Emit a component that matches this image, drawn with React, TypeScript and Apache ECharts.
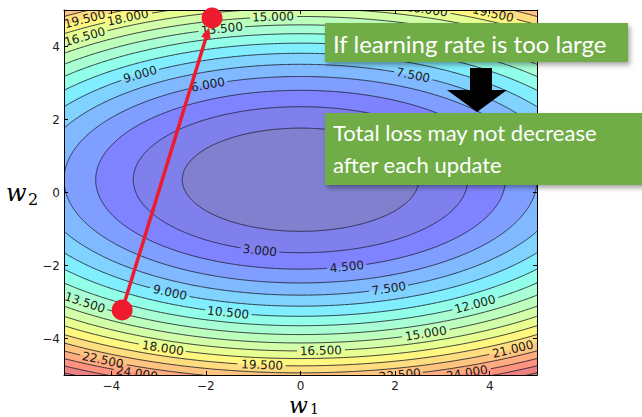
import React, { useEffect, useRef } from 'react';
import * as echarts from 'echarts';

// Quadratic loss surface: L = A1*(w1-C1)^2 + A2*(w2-C2)^2
const SURFACE_A1 = 0.24;
const SURFACE_A2 = 0.75;
const SURFACE_C1 = 0;
const SURFACE_C2 = 0.35;

// filled-contour boundaries (matplotlib auto levels, step 1.5)
const FILL_LEVELS = [0, 1.5, 3, 4.5, 6, 7.5, 9, 10.5, 12, 13.5, 15, 16.5, 18, 19.5, 21, 22.5, 24, 25.5, 27, 28.5];
// contour lines that are drawn
const LINE_LEVELS = [1.5, 3, 4.5, 6, 7.5, 9, 10.5, 12, 13.5, 15, 16.5, 18, 19.5, 21, 22.5, 24, 25.5, 27];
// contour labels: [level, w1, side (+1 upper half, -1 lower half)]
const CONTOUR_LABELS: [number, number, number][] = [
  [19.5, -4.56, 1], [18, -3.65, 1], [16.5, -4.56, 1], [15, -0.58, 1], [13.5, -1.66, 1],
  [9, -3.39, 1], [6, -1.96, 1], [7.5, 2.38, 1], [18, 2.67, 1], [19.5, 4.07, 1],
  [3, -0.86, -1], [4.5, 0.98, -1], [7.5, 1.87, -1], [9, -2.76, -1], [10.5, -1.53, -1],
  [12, 3.69, -1], [13.5, -4.56, -1], [15, 2.65, -1], [16.5, 0.43, -1], [18, -2.91, -1],
  [19.5, -0.81, -1], [21, 4.49, -1], [22.5, -4.18, -1], [24, -3.46, -1], [22.5, 2.1, -1], [24, 3.52, -1],
];
// gradient-descent step (start point -> next point)
const STEP_START = [-3.77, -3.22];
const STEP_END = [-1.87, 4.78];

const X_TICKS = [-4, -2, 0, 2, 4];
const Y_TICKS = [-4, -2, 0, 2, 4];

const RED = '#ee1b2e';

function interp(pts: number[][], t: number) {
  for (let i = 1; i < pts.length; i++) {
    if (t <= pts[i][0]) {
      const [t0, v0] = pts[i - 1];
      const [t1, v1] = pts[i];
      return v0 + ((t - t0) / (t1 - t0)) * (v1 - v0);
    }
  }
  return pts[pts.length - 1][1];
}
function jetBlend(t: number) {
  const r = interp([[0, 0], [0.35, 0], [0.66, 1], [0.89, 1], [1, 0.5]], t);
  const g = interp([[0, 0], [0.125, 0], [0.375, 1], [0.64, 1], [0.91, 0], [1, 0]], t);
  const b = interp([[0, 0.5], [0.11, 1], [0.34, 1], [0.65, 0], [1, 0]], t);
  const a = 0.5;
  const c = (v: number) => Math.round(255 * (a * v + (1 - a)));
  return `rgb(${c(r)},${c(g)},${c(b)})`;
}

function ellipse(api: any, level: number, n: number) {
  const rx = Math.sqrt(level / SURFACE_A1);
  const ry = Math.sqrt(level / SURFACE_A2);
  const pts: number[][] = [];
  for (let i = 0; i <= n; i++) {
    const t = (2 * Math.PI * i) / n;
    pts.push(api.coord([SURFACE_C1 + rx * Math.cos(t), SURFACE_C2 + ry * Math.sin(t)]));
  }
  return pts;
}

function labelGeom(api: any, lab: [number, number, number]) {
  const [L, w1, side] = lab;
  const w2 = (w: number) =>
    SURFACE_C2 + side * Math.sqrt(Math.max(0, (L - SURFACE_A1 * (w - SURFACE_C1) ** 2) / SURFACE_A2));
  const c = api.coord([w1, w2(w1)]);
  const a = api.coord([w1 - 0.05, w2(w1 - 0.05)]);
  const b = api.coord([w1 + 0.05, w2(w1 + 0.05)]);
  const th = Math.atan2(b[1] - a[1], b[0] - a[0]);
  const text = L.toFixed(3);
  const w = text.replace('.', '').length * 7.63 + 3.81;
  return { x: c[0], y: c[1], th, text, hw: w / 2 + 2 };
}

export default function App() {
  const ref = useRef<HTMLDivElement>(null);
  useEffect(() => {
    if (!ref.current) return;
    const chart = echarts.init(ref.current, undefined, { renderer: 'svg' });
    const top = FILL_LEVELS[FILL_LEVELS.length - 1];
    const fillData = FILL_LEVELS.slice(1)
      .map((u, i) => [u, (u + FILL_LEVELS[i]) / 2])
      .reverse();
    const fmt = (v: number) => (v < 0 ? '\u2212' + Math.abs(v) : String(v));
    const axisCommon = {
      type: 'value',
      min: -5,
      max: 5,
      z: 10,
      splitLine: { show: false },
      axisLine: { show: true, onZero: false, lineStyle: { color: '#000', width: 1 } },
    };
    const option: any = {
      animation: false,
      backgroundColor: '#fff',
      grid: { left: 64, top: 10, width: 473, height: 365, containLabel: false },
      xAxis: [
        {
          ...axisCommon,
          position: 'bottom',
          axisTick: { show: true, inside: true, length: 4, customValues: X_TICKS, lineStyle: { color: '#000' } },
          axisLabel: { customValues: X_TICKS, formatter: fmt, color: '#222', fontSize: 12, fontFamily: 'DejaVu Sans', margin: 5 },
        },
        {
          ...axisCommon,
          position: 'top',
          axisTick: { show: true, inside: true, length: 4, customValues: X_TICKS, lineStyle: { color: '#000' } },
          axisLabel: { show: false },
        },
      ],
      yAxis: [
        {
          ...axisCommon,
          position: 'left',
          axisTick: { show: true, inside: true, length: 4, customValues: Y_TICKS, lineStyle: { color: '#000' } },
          axisLabel: { customValues: Y_TICKS, formatter: fmt, color: '#222', fontSize: 12, fontFamily: 'DejaVu Sans', margin: 4 },
        },
        {
          ...axisCommon,
          position: 'right',
          axisTick: { show: true, inside: true, length: 4, customValues: Y_TICKS, lineStyle: { color: '#000' } },
          axisLabel: { show: false },
        },
      ],
      series: [
        {
          type: 'custom',
          name: 'fill',
          coordinateSystem: 'cartesian2d',
          clip: true,
          z: 2,
          data: fillData,
          renderItem: (params: any, api: any) => {
            const u = api.value(0);
            const mid = api.value(1);
            const cs = params.coordSys;
            const pts = ellipse(api, u, 720).map((p) => [
              Math.min(cs.x + cs.width, Math.max(cs.x, p[0])),
              Math.min(cs.y + cs.height, Math.max(cs.y, p[1])),
            ]);
            return {
              type: 'polygon',
              z2: params.dataIndex,
              shape: { points: pts },
              style: { fill: jetBlend(mid / top), stroke: null },
            };
          },
        },
        {
          type: 'custom',
          name: 'lines',
          coordinateSystem: 'cartesian2d',
          clip: true,
          z: 3,
          data: LINE_LEVELS.map((l) => [l]),
          renderItem: (params: any, api: any) => {
            const L = api.value(0);
            const cs = params.coordSys;
            const x0 = cs.x, y0 = cs.y, x1 = cs.x + cs.width, y1 = cs.y + cs.height;
            const clamp = (p: number[]) => [Math.min(x1, Math.max(x0, p[0])), Math.min(y1, Math.max(y0, p[1]))];
            const labs = CONTOUR_LABELS.filter((l) => l[0] === L).map((l) => labelGeom(api, l));
            const pts = ellipse(api, L, 1440);
            const children: any[] = [];
            let run: number[][] = [];
            const flush = () => {
              if (run.length > 1)
                children.push({
                  type: 'polyline',
                  shape: { points: run },
                  style: { stroke: '#1c1c2a', lineWidth: 0.85, fill: null },
                });
              run = [];
            };
            let prevOut: number[] | null = null;
            for (const p of pts) {
              const inside = p[0] >= x0 && p[0] <= x1 && p[1] >= y0 && p[1] <= y1;
              if (!inside) {
                if (run.length) {
                  run.push(clamp(p));
                  flush();
                }
                prevOut = p;
                continue;
              }
              const inGap = labs.some((g) => {
                const dx = p[0] - g.x, dy = p[1] - g.y;
                const u = dx * Math.cos(g.th) + dy * Math.sin(g.th);
                const v = -dx * Math.sin(g.th) + dy * Math.cos(g.th);
                return Math.abs(u) < g.hw && Math.abs(v) < 9;
              });
              if (inGap) {
                flush();
                prevOut = null;
                continue;
              }
              if (run.length === 0 && prevOut) run.push(clamp(prevOut));
              run.push(p);
              prevOut = null;
            }
            flush();
            labs.forEach((g) =>
              children.push({
                type: 'text',
                x: g.x,
                y: g.y,
                rotation: -g.th,
                style: {
                  text: g.text,
                  fill: '#1a1a1a',
                  font: '12px "DejaVu Sans"',
                  align: 'center',
                  verticalAlign: 'middle',
                },
              })
            );
            return { type: 'group', children };
          },
        },
        {
          type: 'custom',
          name: 'step',
          coordinateSystem: 'cartesian2d',
          z: 11,
          data: [[STEP_START[0], STEP_START[1], STEP_END[0], STEP_END[1]]],
          renderItem: (params: any, api: any) => {
            const p0 = api.coord([api.value(0), api.value(1)]);
            const p1 = api.coord([api.value(2), api.value(3)]);
            const dx = p1[0] - p0[0], dy = p1[1] - p0[1];
            const len = Math.hypot(dx, dy);
            const ux = dx / len, uy = dy / len;
            const R = 10, HL = 11, HW = 5;
            const tip = [p1[0] - ux * R, p1[1] - uy * R];
            const base = [tip[0] - ux * HL, tip[1] - uy * HL];
            const left = [base[0] - uy * HW, base[1] + ux * HW];
            const right = [base[0] + uy * HW, base[1] - ux * HW];
            return {
              type: 'group',
              children: [
                {
                  type: 'line',
                  shape: { x1: p0[0], y1: p0[1], x2: base[0] + ux * 2, y2: base[1] + uy * 2 },
                  style: { stroke: RED, lineWidth: 3.5 },
                },
                { type: 'polygon', shape: { points: [tip, left, right] }, style: { fill: RED } },
              ],
            };
          },
        },
        {
          type: 'scatter',
          name: 'points',
          z: 12,
          clip: false,
          symbol: 'circle',
          symbolSize: 21,
          itemStyle: { color: RED, opacity: 1 },
          data: [STEP_START, STEP_END],
        },
      ],
      graphic: [
        {
          type: 'rect',
          z: 100,
          shape: { x: 325, y: 23, width: 303, height: 39 },
          style: { fill: '#70ad47', shadowBlur: 5, shadowOffsetX: 2, shadowOffsetY: 3, shadowColor: 'rgba(0,0,0,0.35)' },
        },
        {
          type: 'text',
          z: 101,
          x: 333,
          y: 43,
          style: { text: 'If learning rate is too large', fill: '#fff', font: '24px Lato', verticalAlign: 'middle' },
        },
        {
          type: 'polygon',
          z: 100,
          shape: { points: [[470, 68], [492, 68], [492, 90], [507, 90], [477, 112], [447, 90], [470, 90]] },
          style: { fill: '#000' },
        },
        {
          type: 'rect',
          z: 100,
          shape: { x: 325, y: 113, width: 330, height: 72 },
          style: { fill: '#70ad47', shadowBlur: 5, shadowOffsetX: 2, shadowOffsetY: 3, shadowColor: 'rgba(0,0,0,0.35)' },
        },
        {
          type: 'text',
          z: 101,
          x: 333,
          y: 148,
          style: {
            text: 'Total loss may not decrease\nafter each update',
            fill: '#fff',
            font: '22px Lato',
            lineHeight: 32,
            verticalAlign: 'middle',
          },
        },
        {
          type: 'text',
          z: 100,
          x: 6,
          y: 193,
          style: { text: 'w', fill: '#000', font: 'italic 24px "DejaVu Serif"', verticalAlign: 'middle' },
        },
        {
          type: 'text',
          z: 100,
          x: 28,
          y: 199,
          style: { text: '2', fill: '#000', font: '16px "DejaVu Serif"', verticalAlign: 'middle' },
        },
        {
          type: 'text',
          z: 100,
          x: 289,
          y: 405,
          style: { text: 'w', fill: '#000', font: 'italic 22px "DejaVu Serif"', verticalAlign: 'middle' },
        },
        {
          type: 'text',
          z: 100,
          x: 310,
          y: 409,
          style: { text: '1', fill: '#000', font: '14px "DejaVu Serif"', verticalAlign: 'middle' },
        },
      ],
    };
    chart.setOption(option);
    return () => chart.dispose();
  }, []);
  return <div ref={ref} style={{ position: 'absolute', left: 0, top: 0, width: 642, height: 417 }} />;
}
